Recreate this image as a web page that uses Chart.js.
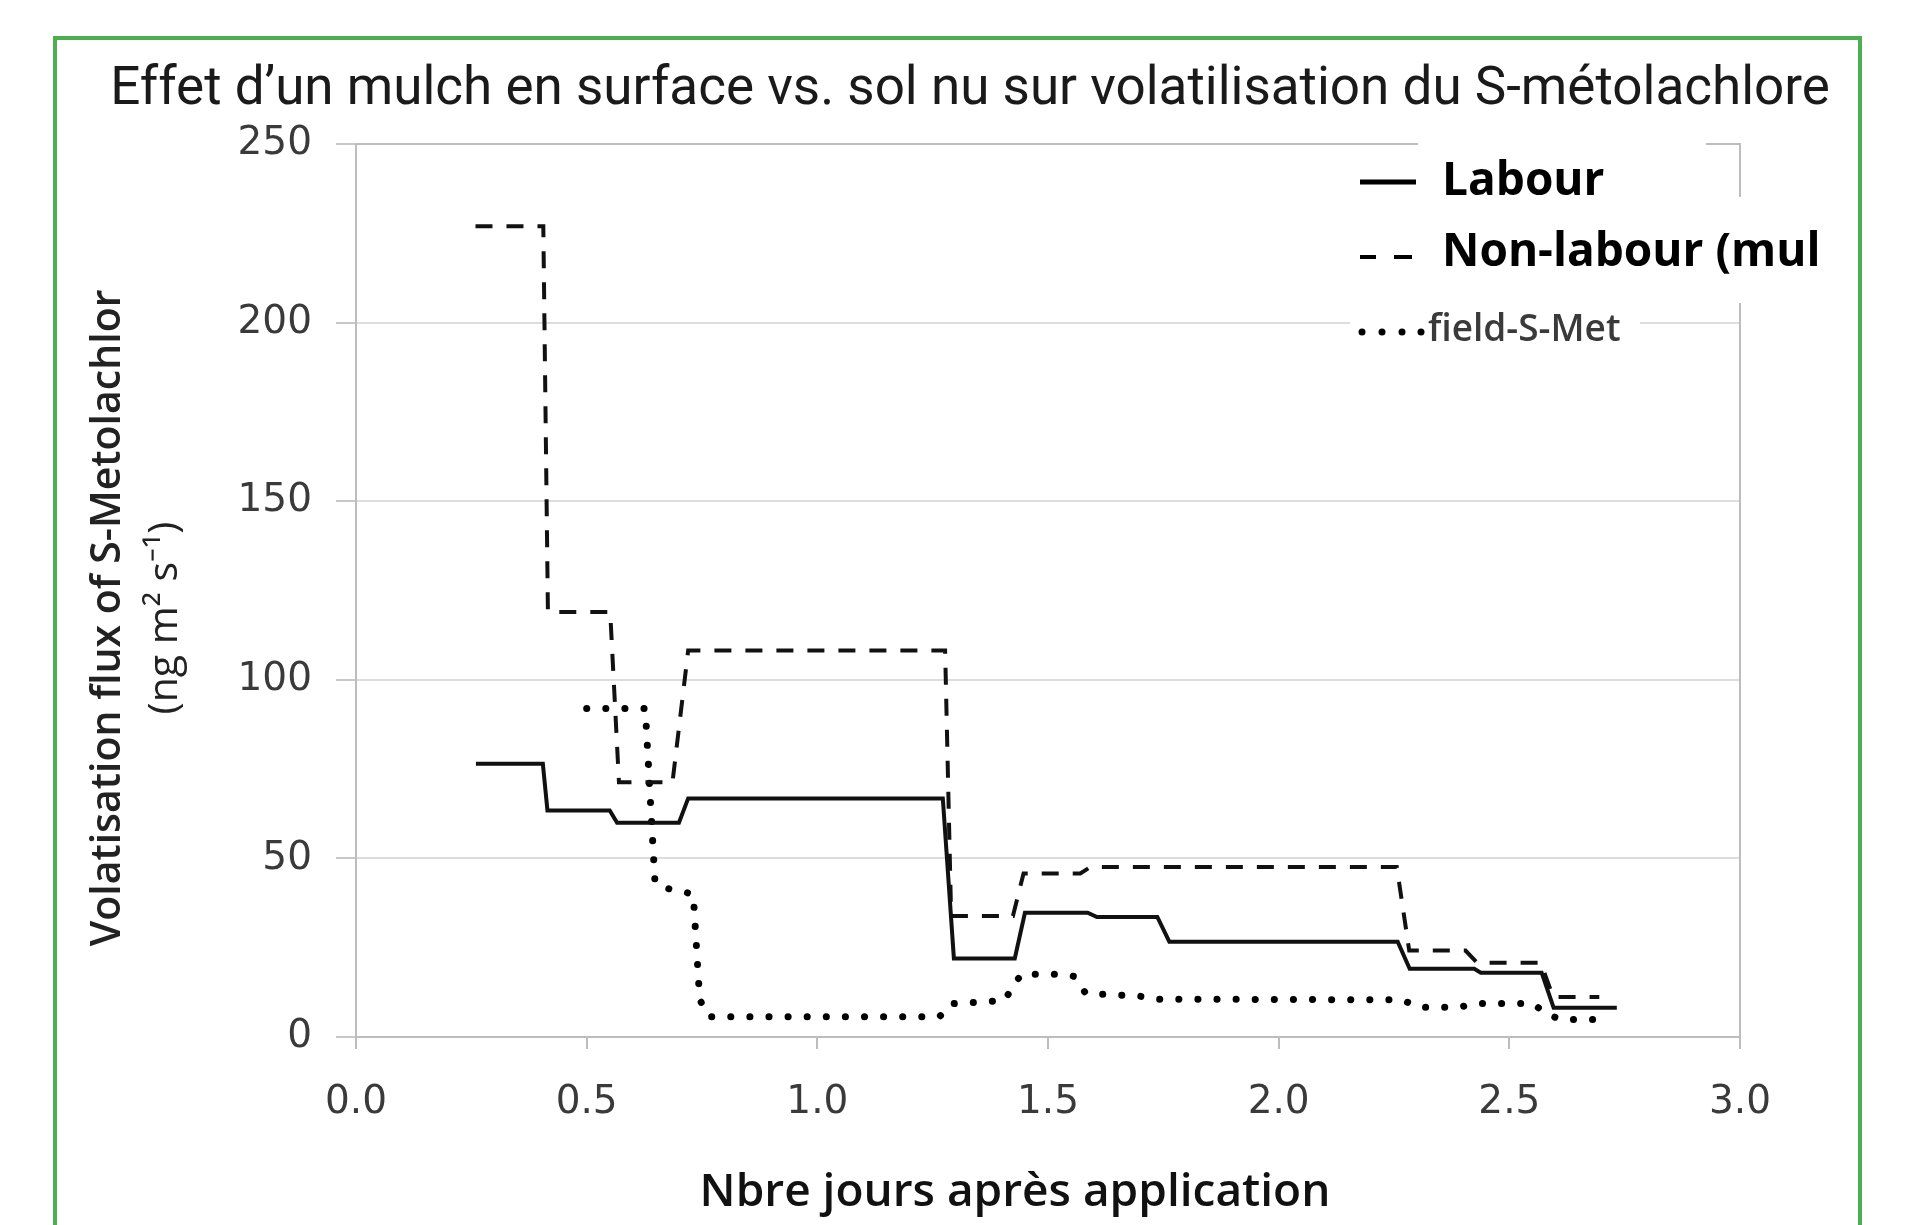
<!DOCTYPE html>
<html>
<head>
<meta charset="utf-8">
<script src="https://cdn.jsdelivr.net/npm/chart.js@4.4.1/dist/chart.umd.min.js"></script>
<style>
  html, body { margin: 0; padding: 0; background: #fff; }
  #wrap { width: 1917px; height: 1225px; position: relative; }
</style>
</head>
<body>
<div id="wrap"><canvas id="fluxChart"></canvas></div>
<script>
// Volatilisation du S-métolachlore : labour vs non-labour (mulch)

const chartTitle = 'Effet d\u2019un mulch en surface vs. sol nu sur volatilisation du S-métolachlore';
const yTitleLines = ['Volatisation flux of S-Metolachlor', '(ng m\u00b2 s\u207b\u00b9)'];
const xTitle = 'Nbre jours après application';
const seriesNames = ['Labour', 'Non-labour (mulch)', 'field-S-Met'];

// x = jours, y = ng m-2 s-1
const labourX = [0.26, 0.405, 0.415, 0.55, 0.566, 0.70, 0.72, 1.272, 1.296, 1.428, 1.45, 1.586, 1.606, 1.737, 1.763, 2.258, 2.284, 2.424, 2.438, 2.570, 2.596, 2.733];
const labourY = [76.5, 76.5, 63.4, 63.4, 60.0, 60.0, 66.8, 66.8, 22.0, 22.0, 34.8, 34.8, 33.6, 33.6, 26.7, 26.7, 19.1, 19.1, 18.0, 18.0, 8.2, 8.2];

const nonLabourX = [0.259, 0.406, 0.416, 0.551, 0.570, 0.686, 0.720, 1.277, 1.290, 1.424, 1.447, 1.570, 1.592, 2.256, 2.283, 2.405, 2.430, 2.568, 2.595, 2.695];
const nonLabourY = [227.0, 227.0, 119.0, 119.0, 71.3, 71.3, 108.2, 108.2, 33.9, 33.9, 45.8, 45.8, 47.6, 47.6, 24.2, 24.2, 20.8, 20.8, 11.2, 11.2];

const fieldX = [0.50, 0.627, 0.648, 0.660, 0.731, 0.745, 0.765, 1.265, 1.290, 1.405, 1.442, 1.530, 1.555, 1.582, 1.700, 1.740, 2.267, 2.305, 2.390, 2.430, 2.550, 2.580, 2.610, 2.693];
const fieldY = [92.0, 92.0, 43.5, 42.0, 40.0, 10.5, 5.7, 5.7, 9.3, 10.2, 17.6, 17.6, 17.0, 12.2, 11.4, 10.6, 10.4, 8.3, 8.3, 9.4, 9.4, 6.6, 4.9, 4.9];

const xTicks = [0, 0.5, 1, 1.5, 2, 2.5, 3];
const yTicks = [0, 50, 100, 150, 200, 250];

const toPoints = (xs, ys) => xs.map((x, i) => ({ x: x, y: ys[i] }));

// cadre vert, titres et légende dessinés à la main
const framePlugin = {
  id: 'frame',
  beforeDraw(chart) {
    const c = chart.ctx;
    c.save();
    c.fillStyle = '#fff';
    c.fillRect(0, 0, chart.width, chart.height);
    c.restore();
  },
  afterDraw(chart) {
    const c = chart.ctx;
    const a = chart.chartArea;
    c.save();

    // bord du graphique (haut + droite)
    c.strokeStyle = '#bdbdbd';
    c.lineWidth = 2;
    c.beginPath();
    c.moveTo(a.left, a.top); c.lineTo(a.right, a.top); c.lineTo(a.right, a.bottom);
    c.stroke();

    // zone blanche de la légende
    c.fillStyle = '#fff';
    c.fillRect(1418, 134, 288, 18);
    c.fillRect(1418, 197, 404, 106);
    c.fillRect(1350, 310, 290, 42);

    // légende
    c.fillStyle = '#000';
    c.textBaseline = 'middle';
    c.textAlign = 'left';
    c.font = '700 46px "Open Sans"';
    c.fillText(seriesNames[0], 1442, 182);
    c.save();
    c.beginPath();
    c.rect(1418, 200, 404, 100);
    c.clip();
    c.fillText(seriesNames[1], 1442, 253);
    c.restore();
    c.font = '600 37px "Open Sans"';
    c.fillStyle = '#3a3a3a';
    c.fillText(seriesNames[2], 1428, 330);

    c.strokeStyle = '#000';
    c.lineWidth = 5;
    c.beginPath(); c.moveTo(1360, 182); c.lineTo(1416, 182); c.stroke();
    c.lineWidth = 4;
    c.beginPath(); c.moveTo(1360, 257); c.lineTo(1376, 257); c.moveTo(1394, 257); c.lineTo(1412, 257); c.stroke();
    c.fillStyle = '#000';
    [1362, 1382, 1402, 1421].forEach(x => { c.beginPath(); c.arc(x, 332, 3.5, 0, Math.PI * 2); c.fill(); });

    // cadre vert
    c.strokeStyle = '#4caf50';
    c.lineWidth = 4;
    c.beginPath();
    c.moveTo(55, 1230); c.lineTo(55, 38); c.lineTo(1860, 38); c.lineTo(1860, 1230);
    c.stroke();

    // titre
    c.fillStyle = '#1a1a1a';
    c.textAlign = 'center';
    c.font = '400 53px Roboto';
    c.fillText(chartTitle, 970, 91);

    // titre axe x
    c.fillStyle = '#111';
    c.font = '600 46px "Open Sans"';
    c.fillText(xTitle, 1015, 1193);

    // titre axe y (deux lignes)
    c.fillStyle = '#222';
    c.translate(108, 618);
    c.rotate(-Math.PI / 2);
    c.font = '600 41px "Open Sans"';
    c.fillText(yTitleLines[0], 0, 0);
    c.font = '400 41px "Open Sans"';
    c.fillText(yTitleLines[1], 0, 57);
    c.restore();
  }
};

const ctx = document.getElementById('fluxChart').getContext('2d');

new Chart(ctx, {
  type: 'line',
  data: {
    datasets: [
      {
        label: seriesNames[0],
        data: toPoints(labourX, labourY),
        borderColor: '#111',
        borderWidth: 4,
        pointRadius: 0,
        tension: 0
      },
      {
        label: seriesNames[1],
        data: toPoints(nonLabourX, nonLabourY),
        borderColor: '#111',
        borderWidth: 4,
        borderDash: [17, 14],
        pointRadius: 0,
        tension: 0
      },
      {
        label: seriesNames[2],
        data: toPoints(fieldX, fieldY),
        borderColor: '#000',
        borderWidth: 7,
        borderDash: [0.1, 19],
        borderCapStyle: 'round',
        pointRadius: 0,
        tension: 0
      }
    ]
  },
  options: {
    responsive: true,
    maintainAspectRatio: false,
    animation: false,
    layout: { padding: { left: 0, top: 144, right: 177, bottom: 88 } },
    plugins: {
      legend: { display: false },
      tooltip: { enabled: false }
    },
    scales: {
      x: {
        type: 'linear',
        min: 0,
        max: 3,
        afterBuildTicks: (scale) => { scale.ticks = xTicks.map(v => ({ value: v })); },
        afterFit: (scale) => { scale.height = 100; },
        border: { color: '#bdbdbd', width: 2 },
        grid: { drawOnChartArea: false, drawTicks: true, tickLength: 12, color: '#bdbdbd', lineWidth: 2 },
        ticks: {
          color: '#3a3a3a',
          padding: 30,
          font: { family: '"DejaVu Sans"', size: 39 },
          callback: (v) => Number(v).toFixed(1)
        }
      },
      y: {
        min: 0,
        max: 250,
        afterBuildTicks: (scale) => { scale.ticks = yTicks.map(v => ({ value: v })); },
        afterFit: (scale) => { scale.width = 356; },
        border: { color: '#bdbdbd', width: 2 },
        grid: {
          color: (c) => c.tick && c.tick.value === 250 ? 'rgba(0,0,0,0)' : '#dcdcdc',
          tickColor: '#c8c8c8',
          lineWidth: 2,
          drawTicks: true,
          tickLength: 20
        },
        ticks: {
          color: '#3a3a3a',
          padding: 24,
          font: { family: '"DejaVu Sans"', size: 39 }
        }
      }
    }
  },
  plugins: [framePlugin]
});
</script>
</body>
</html>
